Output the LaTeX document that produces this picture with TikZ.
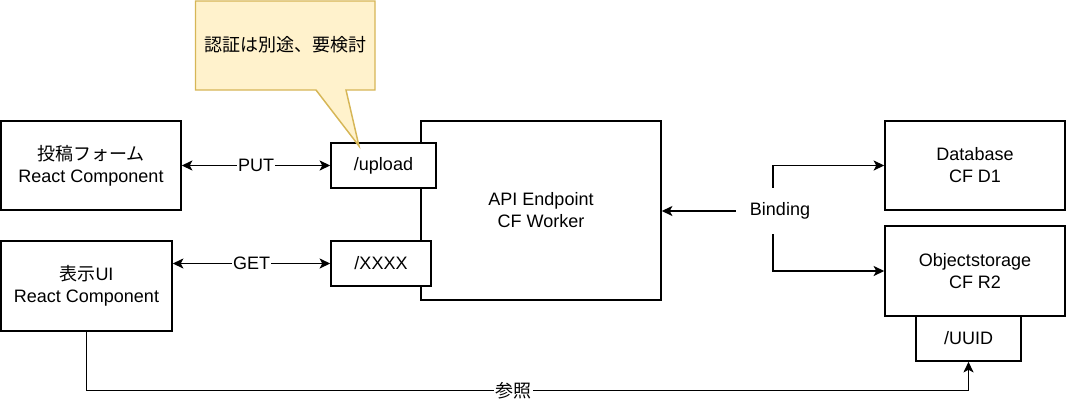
\documentclass[tikz,border=0pt]{standalone}
\usepackage{fontspec}
\setmainfont{Liberation Sans}
\newfontfamily\jp{Noto Sans CJK JP}
\usetikzlibrary{arrows.meta}
\definecolor{notefill}{HTML}{FFF2CC}
\definecolor{notedraw}{HTML}{D6B656}

\begin{document}
\begin{tikzpicture}[x=0.75pt,y=-0.75pt,
		font=\fontsize{13.5}{16.5}\selectfont,
		box/.style={draw,line width=1.1pt,fill=white,align=center,inner sep=0pt},
		lbl/.style={fill=white,inner sep=1pt},
		>={Stealth[length=8pt,width=7.5pt,inset=2pt]},
		every path/.style={line width=1.1pt}]
		\useasboundingbox (0,0) rectangle (1067,404);
		\node[box,minimum width=135pt,minimum height=66.75pt] (form) at (91,165.5) {{\jp 投稿フォーム}\\React Component};
		\node[box,minimum width=128.25pt,minimum height=67.5pt] (view) at (86.5,286) {{\jp 表示}UI\\React Component};
		\node[box,minimum width=180pt,minimum height=134.25pt] (api) at (541,210.5) {API Endpoint\\CF Worker};
		\node[box,minimum width=78.75pt,minimum height=33.75pt] (upload) at (383.5,165.5) {/upload}
			edge[<->] node[lbl] {PUT} (form)
			;
		\node[box,minimum width=75pt,minimum height=33.75pt] (xxxx) at (381,263.5) {/XXXX};
		\node[box,minimum width=135pt,minimum height=66.75pt] (db) at (975,165.5) {Database\\CF D1};
		\node[box,minimum width=135pt,minimum height=67.5pt] (r2) at (975,271) {Objectstorage\\CF R2};
		\node[box,minimum width=78.75pt,minimum height=33.75pt] (uuid) at (968.5,338.5) {/UUID};
		\node[minimum height=33.75pt,inner xsep=10pt] (bind) at (780,211) {Binding};

		\draw[<->] (view.east |- xxxx) -- node[lbl] {GET} (xxxx.west);
		\draw[->] (bind) -- (bind -| api.east);
		\draw[->] ([xshift=-5.25pt]bind.north) |- (db.west);
		\draw[->] ([xshift=-5.25pt]bind.south) |- (r2.west);
		\draw[->] (view.south) -- ++(0,59) -| node[lbl,pos=0.242] {\jp 参照} (uuid.south);

		% note on /upload
		\draw[notedraw,fill=notefill] (195.5,1) -- (375,1) -- (375,90) -- (346,90) -- (359,146) -- (316,90) -- (195.5,90) -- cycle;
		\node (note) at (285,45) {\jp 認証は別途、要検討};
	\end{tikzpicture}
\end{document}
